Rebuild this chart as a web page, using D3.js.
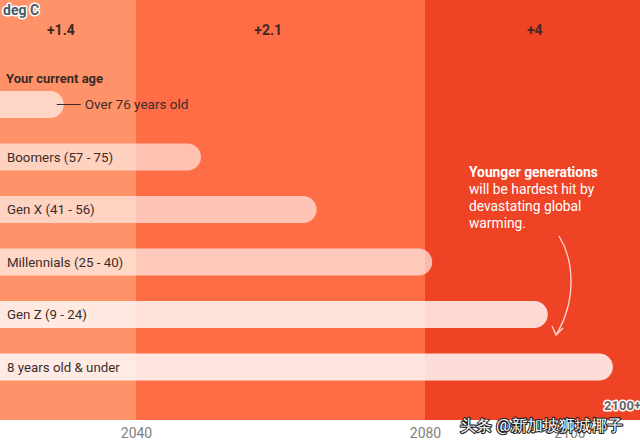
<!DOCTYPE html>
<html>
<head>
<meta charset="utf-8">
<script src="https://cdn.jsdelivr.net/npm/d3@7"></script>
<style>
  html, body { margin: 0; padding: 0; background: #fff; }
  svg { display: block; }
  text { font-family: Roboto, "Noto Sans", sans-serif; }
</style>
</head>
<body>
<svg id="chart" width="640" height="445"></svg>
<script>
// ---- data ----
const bandStarts = [2010, 2040, 2080];
const bandEnds = [2040, 2080, 2120];
const bandLabels = ["+1.4", "+2.1", "+4"];
const bandLabelYears = [2029.6, 2058.3, 2095.2];
const categories = ["Over 76 years old", "Boomers (57 - 75)", "Gen X (41 - 56)", "Millennials (25 - 40)", "Gen Z (9 - 24)", "8 years old & under"];
const endYears = [2030, 2049, 2065, 2081, 2097, 2106];
const tickYears = [2040, 2080, 2100];
const annotationLines = ["Younger generations", "will be hardest hit by", "devastating global", "warming."];

// ---- styles ----
const bandColors = ["#FF9268", "#FF6D47", "#EE4324"];
const barOpacity = [0.62, 0.58, 0.6, 0.64, 0.8, 0.82];

const W = 640, H = 445, plotBottom = 420;
const svg = d3.select("#chart");

const x = d3.scaleLinear().domain([2040, 2080]).range([136, 425]);
const y = d3.scalePoint().domain(categories).range([104.5, 367]);
const barH = 27;

// bands
const bands = bandStarts.map((s, i) => ({ s, e: bandEnds[i], label: bandLabels[i], ly: bandLabelYears[i], c: bandColors[i] }));
svg.append("g").selectAll("rect").data(bands).join("rect")
  .attr("x", d => x(d.s)).attr("width", d => x(d.e) - x(d.s))
  .attr("y", 0).attr("height", plotBottom)
  .attr("fill", d => d.c);

svg.append("g").selectAll("text").data(bands).join("text")
  .attr("x", d => x(d.ly)).attr("y", 35)
  .attr("text-anchor", "middle")
  .attr("font-size", 14).attr("font-weight", 700)
  .attr("fill", "#3b2a24")
  .text(d => d.label);

// deg C
svg.append("text").attr("x", 3).attr("y", 15)
  .attr("font-size", 14).attr("font-weight", 700)
  .attr("fill", "#4b5966").attr("stroke", "#fff").attr("stroke-width", 3)
  .attr("paint-order", "stroke").attr("stroke-linejoin", "round")
  .text("deg C");

// "Your current age"
svg.append("text").attr("x", 6).attr("y", 83)
  .attr("font-size", 13).attr("font-weight", 700)
  .attr("fill", "#3b2a24").text("Your current age");

// bars
const rows = categories.map((c, i) => ({ c, end: endYears[i], op: barOpacity[i], i }));
const startYear = 2015;
svg.append("g").selectAll("rect").data(rows).join("rect")
  .attr("x", d => x(startYear))
  .attr("y", d => y(d.c) - barH / 2)
  .attr("width", d => x(d.end) - x(startYear))
  .attr("height", barH)
  .attr("rx", barH / 2)
  .attr("fill", "#fff")
  .attr("fill-opacity", d => d.op);

// bar labels (inside, except first)
svg.append("g").selectAll("text").data(rows.filter(d => d.i > 0)).join("text")
  .attr("x", 7).attr("y", d => y(d.c) + 4.8)
  .attr("font-size", 13.3).attr("fill", "#3b2c29")
  .text(d => d.c);

// first bar's outside label with leader line
const r0 = rows[0];
svg.append("line")
  .attr("x1", x(r0.end) - 7).attr("x2", x(r0.end) + 17)
  .attr("y1", y(r0.c)).attr("y2", y(r0.c))
  .attr("stroke", "#3b2c29").attr("stroke-width", 1);
svg.append("text").attr("x", x(r0.end) + 21).attr("y", y(r0.c) + 4.8)
  .attr("font-size", 13.5).attr("fill", "#3b2c29").text(r0.c);

// annotation
const ann = svg.append("text").attr("x", 469).attr("y", 177)
  .attr("font-size", 13.8).attr("fill", "#fff");
annotationLines.forEach((t, i) => {
  ann.append("tspan").attr("x", 469).attr("dy", i === 0 ? 0 : 17)
    .attr("font-weight", i === 0 ? 700 : 400).text(t);
});

// curved arrow
svg.append("path")
  .attr("d", "M559,236 C575,262 576,302 556,335")
  .attr("fill", "none").attr("stroke", "#FFD9CE").attr("stroke-width", 1.3);
svg.append("path")
  .attr("d", "M552,326 L556,335 L563,328")
  .attr("fill", "none").attr("stroke", "#FFD9CE").attr("stroke-width", 1.3);

// x axis tick labels
const axis = d3.axisBottom(x).tickValues(tickYears).tickFormat(d3.format("d")).tickSize(0).tickPadding(8);
const ax = svg.append("g").attr("transform", `translate(0,${plotBottom})`).call(axis);
ax.select(".domain").remove();
ax.selectAll("text").attr("font-size", 14).attr("fill", "#808080")
  .attr("font-family", "Roboto, 'Noto Sans', sans-serif");

// 2100+ label
svg.append("text").attr("x", 641).attr("y", 410).attr("text-anchor", "end")
  .attr("font-size", 13).attr("font-weight", 700)
  .attr("fill", "#666").attr("stroke", "#fff").attr("stroke-width", 3)
  .attr("paint-order", "stroke").attr("stroke-linejoin", "round")
  .text("2100+");

// watermark
svg.append("text").attr("x", 460).attr("y", 431)
  .attr("font-size", 16.3)
  .attr("font-family", "'Noto Sans CJK SC', sans-serif")
  .attr("fill", "#fff").attr("stroke", "#222").attr("stroke-width", 2.2)
  .attr("paint-order", "stroke").attr("stroke-linejoin", "round")
  .text("头条 @新加坡狮城椰子");
</script>
</body>
</html>
